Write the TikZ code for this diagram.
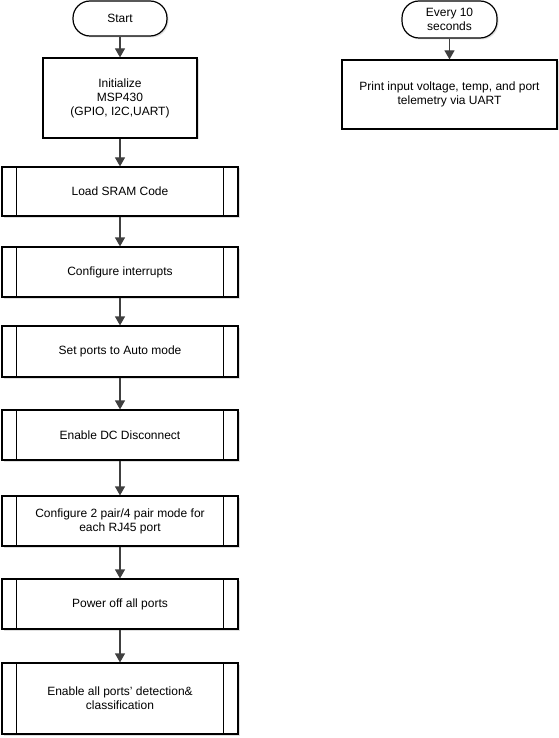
\documentclass[tikz,border=0pt]{standalone}
\usepackage{fontspec}
\setmainfont{Liberation Sans}
\usetikzlibrary{arrows.meta,shadows}
\begin{document}
\begin{tikzpicture}[x=1pt,y=-1pt,
  font=\fontsize{12}{14}\selectfont,
  base/.style={draw=black, line width=1.2pt, fill=white, inner sep=0pt, align=center,
    drop shadow={shadow xshift=1.5pt, shadow yshift=-1.5pt, fill=black!25}},
  term/.style={base, rounded corners=17pt},
  proc/.style={base},
  pproc/.style={base, minimum width=236pt},
  bar/.style={draw=black, line width=1.2pt},
  conn/.style={draw=black!75, line width=1.2pt, -{Triangle[width=10pt,length=9pt]}}]
\useasboundingbox (0,0) rectangle (558,738);

\node[term, minimum width=94pt, minimum height=35pt] (start) at (120,18.5) {Start};
\node[proc, minimum width=154pt, minimum height=80pt] (init) at (120,98) {Initialize\\MSP430\\(GPIO, I2C,UART)};
\node[pproc, minimum height=49pt] (load) at (120,191.5) {Load SRAM Code};
\node[pproc, minimum height=50pt] (intr) at (120,272) {Configure interrupts};
\node[pproc, minimum height=51pt] (auto) at (120,351.5) {Set ports to Auto mode};
\node[pproc, minimum height=50pt] (dc) at (120,435) {Enable DC Disconnect};
\node[pproc, minimum height=50pt] (pair) at (120,521) {Configure 2 pair/4 pair mode for\\each RJ45 port};
\node[pproc, minimum height=50pt] (off) at (120,604) {Power off all ports};
\node[pproc, minimum height=71pt] (det) at (120,698.5) {Enable all ports' detection\&\\classification};

\node[term, minimum width=95pt, minimum height=37pt] (every) at (449.5,19.5) {Every 10\\seconds};
\node[proc, minimum width=215pt, minimum height=69pt] (print) at (449.5,94.5) {Print input voltage, temp, and port\\telemetry via UART};

\foreach \n in {load,intr,auto,dc,pair,off,det} {
  \draw[bar] ([xshift=15pt]\n.north west) -- ([xshift=15pt]\n.south west);
  \draw[bar] ([xshift=-15pt]\n.north east) -- ([xshift=-15pt]\n.south east);
}

\draw[conn] (start) -- (init);
\draw[conn] (init) -- (load);
\draw[conn] (load) -- (intr);
\draw[conn] (intr) -- (auto);
\draw[conn] (auto) -- (dc);
\draw[conn] (dc) -- (pair);
\draw[conn] (pair) -- (off);
\draw[conn] (off) -- (det);
\draw[conn] (every) -- (print);
\end{tikzpicture}
\end{document}
